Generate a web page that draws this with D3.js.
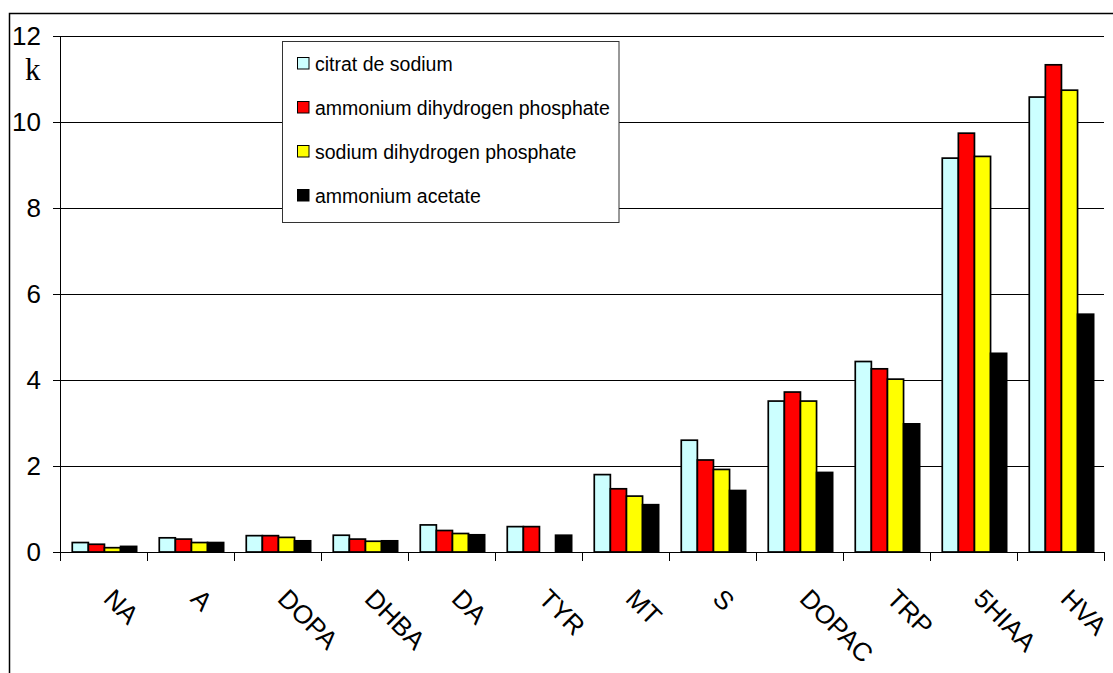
<!DOCTYPE html>
<html><head><meta charset="utf-8">
<script src="https://cdn.jsdelivr.net/npm/d3@7"></script>
<style>html,body{margin:0;padding:0;background:#fff;overflow:hidden}</style>
</head><body>
<svg id="c" width="1113" height="673"></svg>
<script>
const categories = ["NA","A","DOPA","DHBA","DA","TYR","MT","S","DOPAC","TRP","5HIAA","HVA"];
const seriesNames = ["citrat de sodium","ammonium dihydrogen phosphate","sodium dihydrogen phosphate","ammonium acetate"];
const citrat = [0.22,0.33,0.38,0.39,0.63,0.59,1.80,2.60,3.51,4.43,9.16,10.58];
const ammDihydrogen = [0.18,0.30,0.38,0.30,0.50,0.59,1.47,2.14,3.72,4.26,9.74,11.33];
const sodDihydrogen = [0.10,0.22,0.34,0.25,0.43,0,1.30,1.92,3.51,4.02,9.20,10.74];
const ammAcetate = [0.13,0.22,0.26,0.26,0.40,0.39,1.10,1.43,1.85,2.98,4.62,5.53];
const yTicks = [0,2,4,6,8,10,12];
const colors = ["#CCFFFF","#FF0000","#FFFF00","#000000"];

const seriesVals = [citrat, ammDihydrogen, sodDihydrogen, ammAcetate];
const svg = d3.select("#c");
const X0 = 60, X1 = 1104, Y0 = 552, YT = 36;

// outer frame
svg.append("rect").attr("x",9.5).attr("y",13.5).attr("width",2000).attr("height",2000)
  .attr("fill","none").attr("stroke","#000").attr("stroke-width",1.5);

const x = d3.scaleBand().domain(categories).range([X0,X1]).padding(0);
const bw = x.bandwidth();
const x1 = d3.scaleBand().domain(d3.range(seriesNames.length)).range([bw*0.141, bw*0.881]).padding(0);
const y = d3.scaleLinear().domain([0,12]).range([Y0,YT]);

// gridlines
svg.append("g").selectAll("line").data(yTicks).join("line")
  .attr("x1",X0-7).attr("x2",X1)
  .attr("y1",d=>Math.round(y(d))+0.5).attr("y2",d=>Math.round(y(d))+0.5)
  .attr("stroke","#000").attr("stroke-width",1);

// y labels
svg.append("g").selectAll("text").data(yTicks).join("text")
  .attr("x",41).attr("y",d=>y(d)).attr("text-anchor","end")
  .attr("dominant-baseline","central")
  .attr("font-family","Liberation Sans, Arial, sans-serif").attr("font-size",26)
  .text(d=>d);

svg.append("text").attr("x",25).attr("y",80)
  .attr("font-family","Liberation Serif, Times New Roman, serif").attr("font-size",31)
  .text("k");

// bars
const g = svg.append("g");
categories.forEach((c,i)=>{
  seriesVals.forEach((vals,s)=>{
    const v = vals[i];
    if (v <= 0) return;
    g.append("rect")
      .attr("x", x(c)+x1(s)).attr("width", x1.bandwidth())
      .attr("y", y(v)).attr("height", y(0)-y(v))
      .attr("fill", colors[s]).attr("stroke","#000").attr("stroke-width",1.7);
  });
});

// axes lines
svg.append("line").attr("x1",X0+0.5).attr("x2",X0+0.5).attr("y1",YT).attr("y2",Y0+9)
  .attr("stroke","#000").attr("stroke-width",1);
svg.append("line").attr("x1",X0-7).attr("x2",X1).attr("y1",Y0+0.5).attr("y2",Y0+0.5)
  .attr("stroke","#000").attr("stroke-width",1);
const bounds = categories.map(c=>x(c)).concat([X1]);
svg.append("g").selectAll("line").data(bounds).join("line")
  .attr("x1",d=>Math.round(d)+0.5).attr("x2",d=>Math.round(d)+0.5)
  .attr("y1",Y0).attr("y2",Y0+9).attr("stroke","#000").attr("stroke-width",1);

// x labels
svg.append("g").selectAll("text").data(categories).join("text")
  .attr("transform",d=>`translate(${x(d)+bw/2+12},587) rotate(45)`)
  .attr("dy","0.72em").attr("text-anchor","start")
  .attr("font-family","Liberation Sans, Arial, sans-serif").attr("font-size",26)
  .text(d=>d);

// legend
const lg = svg.append("g");
lg.append("rect").attr("x",282.5).attr("y",41.5).attr("width",336.5).attr("height",181)
  .attr("fill","#fff").attr("stroke","#333").attr("stroke-width",1);
seriesNames.forEach((n,i)=>{
  const cy = 63.5 + i*44;
  lg.append("rect").attr("x",297.5).attr("y",cy-6).attr("width",11.5).attr("height",11.5)
    .attr("fill",colors[i]).attr("stroke","#000").attr("stroke-width",1);
  lg.append("text").attr("x",315).attr("y",cy).attr("dominant-baseline","central")
    .attr("font-family","Liberation Sans, Arial, sans-serif").attr("font-size",19.5)
    .text(n);
});
</script>
</body></html>
